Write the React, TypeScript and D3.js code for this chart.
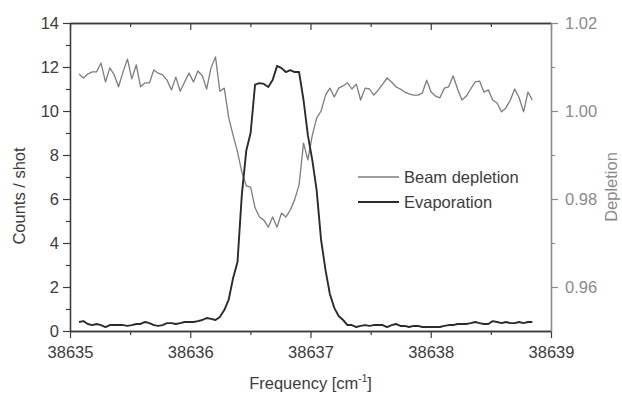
import React, { useRef, useEffect } from 'react';
import * as d3 from 'd3';

// frequency grid of the scan (cm^-1)
const frequency = [
  38635.075, 38635.112, 38635.148, 38635.185, 38635.221, 38635.258, 38635.295, 38635.331,
  38635.368, 38635.404, 38635.441, 38635.478, 38635.514, 38635.551, 38635.587, 38635.624,
  38635.661, 38635.697, 38635.734, 38635.770, 38635.807, 38635.844, 38635.880, 38635.917,
  38635.953, 38635.990, 38636.027, 38636.063, 38636.100, 38636.136, 38636.173, 38636.210,
  38636.246, 38636.283, 38636.319, 38636.356, 38636.393, 38636.429, 38636.466, 38636.502,
  38636.539, 38636.576, 38636.612, 38636.649, 38636.685, 38636.722, 38636.759, 38636.795,
  38636.832, 38636.868, 38636.905, 38636.942, 38636.978, 38637.015, 38637.051, 38637.088,
  38637.125, 38637.161, 38637.198, 38637.234, 38637.271, 38637.308, 38637.344, 38637.381,
  38637.417, 38637.454, 38637.491, 38637.527, 38637.564, 38637.600, 38637.637, 38637.674,
  38637.710, 38637.747, 38637.783, 38637.820, 38637.857, 38637.893, 38637.930, 38637.966,
  38638.003, 38638.040, 38638.076, 38638.113, 38638.149, 38638.186, 38638.223, 38638.259,
  38638.296, 38638.332, 38638.369, 38638.406, 38638.442, 38638.479, 38638.515, 38638.552,
  38638.589, 38638.625, 38638.662, 38638.698, 38638.735, 38638.772, 38638.808, 38638.845
];

// right axis
const beamDepletion = [
  1.0084, 1.0075, 1.0084, 1.0089, 1.0089, 1.0109, 1.0066, 1.0098,
  1.0082, 1.0055, 1.0089, 1.0118, 1.0073, 1.0105, 1.0055, 1.0064,
  1.0064, 1.0093, 1.0086, 1.0082, 1.0070, 1.0048, 1.0077, 1.0045,
  1.0066, 1.0086, 1.0066, 1.0091, 1.0080, 1.0050, 1.0098, 1.0123,
  1.0045, 1.0052, 0.9986, 0.9945, 0.9907, 0.9861, 0.9830, 0.9827,
  0.9780, 0.9759, 0.9752, 0.9736, 0.9759, 0.9736, 0.9768, 0.9759,
  0.9775, 0.9798, 0.9832, 0.9927, 0.9889, 0.9945, 0.9984, 1.0000,
  1.0036, 1.0052, 1.0032, 1.0052, 1.0057, 1.0064, 1.0050, 1.0061,
  1.0025, 1.0052, 1.0050, 1.0036, 1.0048, 1.0061, 1.0075, 1.0066,
  1.0055, 1.0050, 1.0043, 1.0039, 1.0036, 1.0036, 1.0041, 1.0070,
  1.0043, 1.0034, 1.0030, 1.0052, 1.0055, 1.0080, 1.0050, 1.0025,
  1.0034, 1.0050, 1.0066, 1.0068, 1.0043, 1.0048, 1.0025, 1.0018,
  0.9998, 1.0007, 1.0025, 1.0050, 1.0030, 0.9998, 1.0043, 1.0025
];

// left axis
const evaporation = [
  0.41, 0.45, 0.32, 0.27, 0.32, 0.27, 0.18, 0.27,
  0.27, 0.27, 0.27, 0.23, 0.27, 0.32, 0.32, 0.41,
  0.36, 0.27, 0.23, 0.27, 0.36, 0.36, 0.32, 0.36,
  0.41, 0.41, 0.41, 0.45, 0.50, 0.59, 0.55, 0.50,
  0.64, 0.95, 1.41, 2.40, 3.14, 6.20, 8.20, 9.00,
  11.20, 11.27, 11.23, 11.09, 11.41, 12.05, 11.95, 11.77,
  11.86, 11.77, 11.77, 10.50, 8.90, 7.77, 6.40, 4.14,
  2.77, 1.68, 1.05, 0.68, 0.50, 0.27, 0.27, 0.18,
  0.23, 0.27, 0.23, 0.27, 0.27, 0.27, 0.18, 0.27,
  0.32, 0.23, 0.23, 0.18, 0.23, 0.23, 0.18, 0.18,
  0.18, 0.18, 0.18, 0.23, 0.27, 0.27, 0.32, 0.32,
  0.32, 0.36, 0.41, 0.36, 0.32, 0.32, 0.45, 0.41,
  0.36, 0.41, 0.36, 0.36, 0.41, 0.36, 0.41, 0.41
];

const freqTicks = [38635, 38636, 38637, 38638, 38639];
const freqMinorTicks = [38635.5, 38636.5, 38637.5, 38638.5];
const countTicks = [0, 2, 4, 6, 8, 10, 12, 14];
const countMinorTicks = [1, 3, 5, 7, 9, 11, 13];
const depletionTicks = [0.96, 0.98, 1.0, 1.02];
const depletionMinorTicks = [0.97, 0.99, 1.01];

const FONT = '"Liberation Sans", Arial, sans-serif';
const DARK = '#3c3c3c';
const GREY = '#8a8a8a';

function SpectrumChart({ width = 622, height = 396 }) {
  const svgRef = useRef<SVGSVGElement>(null);

  useEffect(() => {
    const svg = d3.select(svgRef.current);
    svg.selectAll('*').remove();

    const margin = { top: 23, right: 71, bottom: 65, left: 70 };
    const innerWidth = width - margin.left - margin.right;
    const innerHeight = height - margin.top - margin.bottom;

    const x = d3.scaleLinear().domain([38635, 38639]).range([0, innerWidth]);
    const yCounts = d3.scaleLinear().domain([0, 14]).range([innerHeight, 0]);
    const yDepl = d3.scaleLinear().domain([0.95, 1.02]).range([innerHeight, 0]);

    const g = svg.append('g').attr('transform', `translate(${margin.left},${margin.top})`);

    const styleAxis = (sel, color) => {
      sel.attr('font-family', FONT).attr('font-size', 16.5);
      sel.selectAll('path').attr('stroke', color).attr('stroke-width', 1.3);
      sel.selectAll('line').attr('stroke', color).attr('stroke-width', 1.2);
      sel.selectAll('text').attr('fill', color);
    };

    // bottom
    g.append('g')
      .attr('transform', `translate(0,${innerHeight})`)
      .call(d3.axisBottom(x).tickValues(freqTicks).tickFormat(d3.format('d')).tickSize(7).tickSizeOuter(0).tickPadding(8))
      .call(s => styleAxis(s, DARK));
    g.append('g')
      .attr('transform', `translate(0,${innerHeight})`)
      .call(d3.axisBottom(x).tickValues(freqMinorTicks).tickFormat(() => '').tickSize(4).tickSizeOuter(0))
      .call(s => styleAxis(s, DARK));

    // top, ticks inward
    g.append('g')
      .call(d3.axisTop(x).tickValues(freqTicks).tickFormat(() => '').tickSize(-7).tickSizeOuter(0))
      .call(s => styleAxis(s, DARK));
    g.append('g')
      .call(d3.axisTop(x).tickValues(freqMinorTicks).tickFormat(() => '').tickSize(-4).tickSizeOuter(0))
      .call(s => styleAxis(s, DARK));

    // left
    g.append('g')
      .call(d3.axisLeft(yCounts).tickValues(countTicks).tickFormat(d3.format('d')).tickSize(7).tickSizeOuter(0).tickPadding(4))
      .call(s => styleAxis(s, DARK));
    g.append('g')
      .call(d3.axisLeft(yCounts).tickValues(countMinorTicks).tickFormat(() => '').tickSize(4).tickSizeOuter(0))
      .call(s => styleAxis(s, DARK));

    // right
    g.append('g')
      .attr('transform', `translate(${innerWidth},0)`)
      .call(d3.axisRight(yDepl).tickValues(depletionTicks).tickFormat(d3.format('.2f')).tickSize(7).tickSizeOuter(0).tickPadding(7))
      .call(s => styleAxis(s, GREY));
    g.append('g')
      .attr('transform', `translate(${innerWidth},0)`)
      .call(d3.axisRight(yDepl).tickValues(depletionMinorTicks).tickFormat(() => '').tickSize(4).tickSizeOuter(0))
      .call(s => styleAxis(s, GREY));

    // series
    const idx = d3.range(frequency.length);
    const deplLine = d3.line<number>().x(i => x(frequency[i])).y(i => yDepl(beamDepletion[i]));
    const evapLine = d3.line<number>().x(i => x(frequency[i])).y(i => yCounts(evaporation[i]));

    g.append('path')
      .datum(idx)
      .attr('fill', 'none')
      .attr('stroke', '#7d7d7d')
      .attr('stroke-width', 1.3)
      .attr('stroke-linejoin', 'round')
      .attr('d', deplLine);

    g.append('path')
      .datum(idx)
      .attr('fill', 'none')
      .attr('stroke', '#2b2b2b')
      .attr('stroke-width', 1.9)
      .attr('stroke-linejoin', 'round')
      .attr('d', evapLine);

    // legend
    const legend = [
      { label: 'Beam depletion', color: '#7d7d7d', w: 1.3 },
      { label: 'Evaporation', color: '#2b2b2b', w: 1.9 }
    ];
    const lg = svg.append('g').attr('transform', 'translate(358,177)');
    legend.forEach((d, i) => {
      lg.append('line')
        .attr('x1', 0).attr('x2', 41)
        .attr('y1', i * 25).attr('y2', i * 25)
        .attr('stroke', d.color).attr('stroke-width', d.w);
      lg.append('text')
        .attr('x', 46).attr('y', i * 25 + 6)
        .attr('font-family', FONT).attr('font-size', 16.5)
        .attr('fill', DARK)
        .text(d.label);
    });

    // axis titles
    svg.append('text')
      .attr('transform', 'translate(25,196) rotate(-90)')
      .attr('text-anchor', 'middle')
      .attr('font-family', FONT).attr('font-size', 16.5)
      .attr('fill', DARK)
      .text('Counts / shot');

    svg.append('text')
      .attr('transform', 'translate(617,187) rotate(-90)')
      .attr('text-anchor', 'middle')
      .attr('font-family', FONT).attr('font-size', 16.5)
      .attr('fill', GREY)
      .text('Depletion');

    const xt = svg.append('text')
      .attr('x', margin.left + innerWidth / 2)
      .attr('y', 389)
      .attr('text-anchor', 'middle')
      .attr('font-family', FONT).attr('font-size', 16.5)
      .attr('fill', DARK);
    xt.append('tspan').text('Frequency [cm');
    xt.append('tspan').attr('dy', -7).attr('font-size', 10).text('-1');
    xt.append('tspan').attr('dy', 7).text(']');
  }, [width, height]);

  return (
    <svg
      ref={svgRef}
      width={width}
      height={height}
      style={{ position: 'absolute', left: 0, top: 0, background: '#fff' }}
    />
  );
}

export default function App() {
  return <SpectrumChart />;
}
